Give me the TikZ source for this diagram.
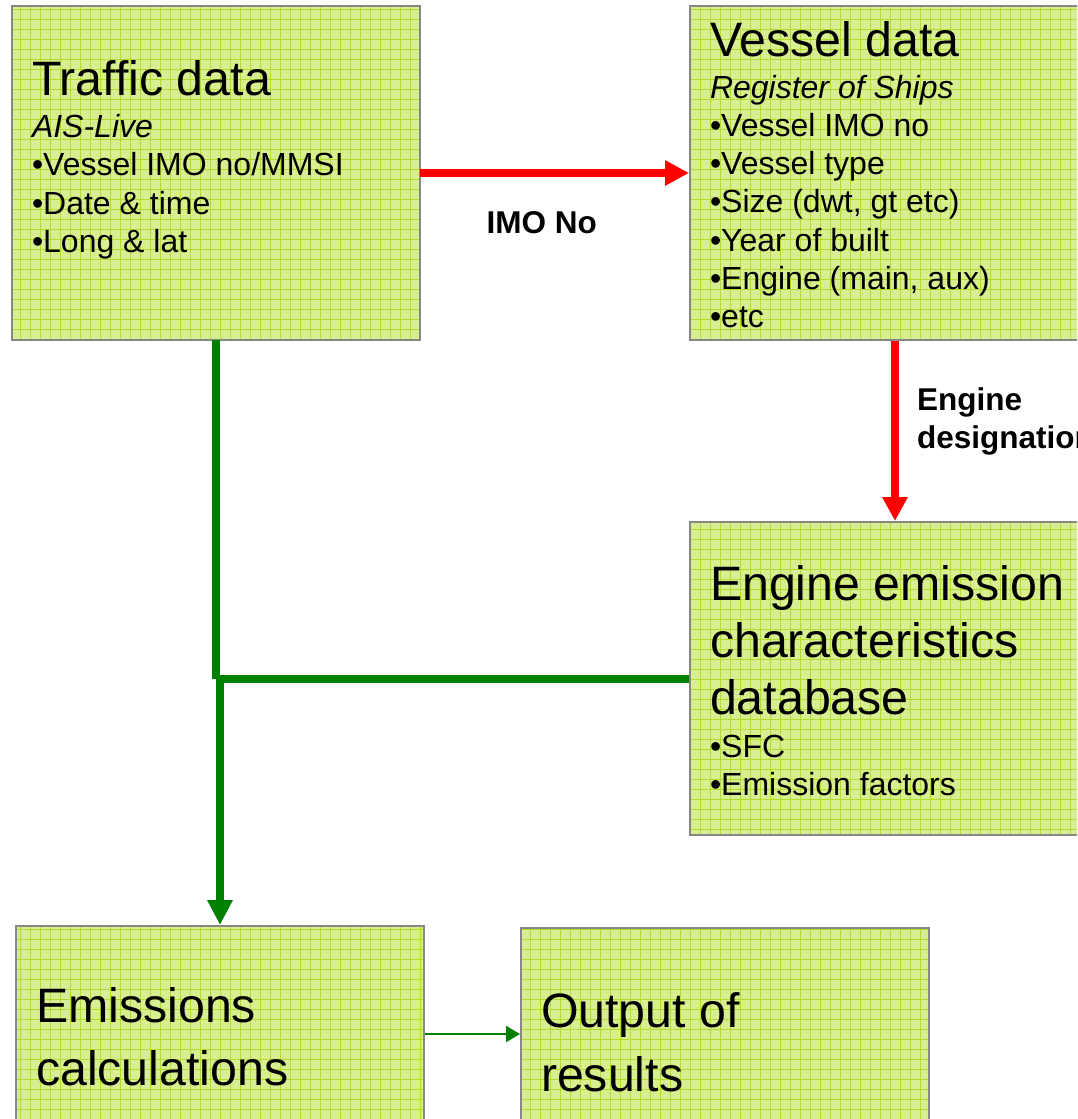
\documentclass[tikz,border=0pt]{standalone}
\usepackage{fontspec}
\setmainfont{Liberation Sans}
\usetikzlibrary{arrows.meta,patterns.meta}

\definecolor{boxfill}{RGB}{216,238,146}
\definecolor{boxgrid}{RGB}{180,220,44}
\definecolor{boxline}{RGB}{135,135,135}
\definecolor{flowgreen}{RGB}{0,128,0}
\definecolor{flowred}{RGB}{255,0,0}

\newcommand{\bigtext}[1]{\fontsize{48.3}{#1}\selectfont}
\newcommand{\smalltext}[1]{\fontsize{32}{#1}\selectfont}

\tikzset{
  databox/.style={draw=boxline, line width=2pt, preaction={fill=boxfill},
    pattern={Hatch[distance=10pt, angle=0, line width=0.8pt]}, pattern color=boxgrid,
    inner xsep=20pt, inner ysep=0pt},
  redarrow/.style={draw=flowred, line width=8pt, -{Triangle[length=24pt, width=24pt]}},
  greenline/.style={draw=flowgreen, line width=8pt},
  thinarrow/.style={draw=flowgreen, line width=2pt, -{Triangle[length=14pt, width=16pt]}},
  edgelabel/.style={font=\fontsize{31.5}{38}\selectfont\bfseries, inner sep=0pt}
}

\begin{document}
\begin{tikzpicture}[x=1pt, y=-1pt]
    \useasboundingbox (0,0) rectangle (1077,1119);
    \clip (0,0) rectangle (1077,1119);

    % Nodes
    \node[databox] (traffic) at (216,173) {\parbox[c][334pt][t]{368pt}{%
        \bigtext{57}\rule{0pt}{89pt}Traffic data\par
        \smalltext{42}\textit{AIS-Live}\par
        \smalltext{38.5}•Vessel IMO no/MMSI\par
        •Date \& time\par
        •Long \& lat\par}};
    \node[databox] (vessel) at (895,173) {\parbox[c][334pt][t]{370pt}{%
        \bigtext{57}\rule{0pt}{50pt}Vessel data\par
        \smalltext{42}\textit{Register of Ships}\par
        \smalltext{38.3}•Vessel IMO no\par
        •Vessel type\par
        •Size (dwt, gt etc)\par
        •Year of built\par
        •Engine (main, aux)\par
        •etc\par}};
    \node[databox] (engine) at (895,678.5) {\parbox[c][313pt][t]{370pt}{%
        \bigtext{57}\rule{0pt}{78pt}Engine emission\par
        characteristics\par
        database\par
        \smalltext{43}•SFC\par
        \smalltext{38}•Emission factors\par}};
    \node[databox] (calc) at (220,1037) {\parbox[c][222pt][t]{368pt}{%
        \bigtext{63}\rule{0pt}{96pt}Emissions\par
        calculations\par}};
    \node[databox] (output) at (725,1039) {\parbox[c][222pt][t]{368pt}{%
        \bigtext{64}\rule{0pt}{99pt}Output of\par
        results\par}};

    % Edges
    \draw[redarrow] (traffic) -- node[edgelabel, anchor=north, xshift=-13pt, yshift=-35pt] {IMO No} (vessel);
    \draw[redarrow] (vessel) -- node[edgelabel, anchor=west, align=left, xshift=18pt, yshift=10pt] {Engine\\designation} (engine);
    \draw[greenline] (traffic) -- (traffic.south |- engine.west);
    \draw[greenline, -{Triangle[length=25pt, width=24pt]}] (engine.west) -| (calc.north);
    \draw[thinarrow] ([yshift=3pt]calc.east) -- ([yshift=3pt]calc.east -| output.west);
\end{tikzpicture}
\end{document}
